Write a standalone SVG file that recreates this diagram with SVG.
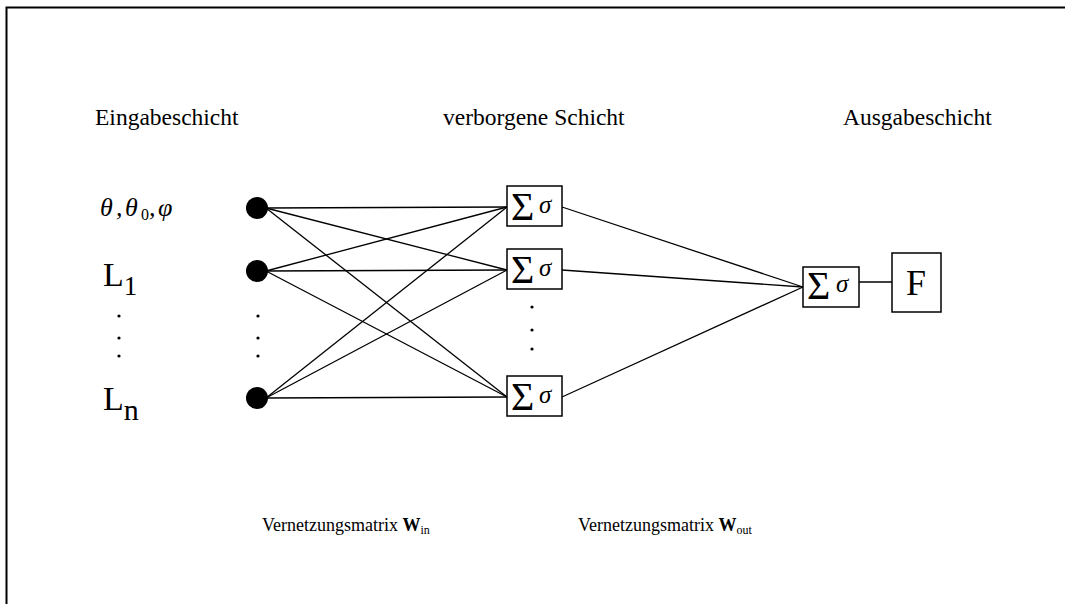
<svg xmlns="http://www.w3.org/2000/svg" width="1065" height="604" viewBox="0 0 1065 604">
<style>
text{font-family:"Liberation Serif","Times New Roman",serif;fill:#000}
.top{font-size:23.5px}
.lbl{font-size:18px}
.box{fill:#fff;stroke:#000;stroke-width:1.5}
.con line{stroke:#000;stroke-width:1.3}
.sig{font-size:40px}
.sg{font-size:25px;font-style:italic}
.dot{fill:#000}
.th{font-size:26px;font-style:italic}
</style>
<rect width="1065" height="604" fill="#fff"/>
<path d="M6.5 604 V7.5 H1065" fill="none" stroke="#000" stroke-width="2"/>
<g id="labels">
<text class="top" x="95" y="125">Eingabeschicht</text>
<text class="top" x="443" y="125">verborgene Schicht</text>
<text class="top" x="843" y="125">Ausgabeschicht</text>
<text class="lbl" x="262" y="531">Vernetzungsmatrix <tspan font-weight="bold">W</tspan><tspan font-size="12" dy="3">in</tspan></text>
<text class="lbl" x="578" y="531">Vernetzungsmatrix <tspan font-weight="bold">W</tspan><tspan font-size="12" dy="3">out</tspan></text>
</g>
<g id="input-labels">
<text class="th" x="100" y="216">θ</text>
<text class="th" x="116" y="216">,</text>
<text class="th" x="125" y="216">θ</text>
<text x="141" y="220" font-size="16">0</text>
<text class="th" x="149" y="216">,</text>
<text class="th" x="158" y="216">φ</text>
<text x="103" y="286" font-size="34">L<tspan font-size="27" dy="9">1</tspan></text>
<text x="103" y="410" font-size="34">L<tspan font-size="30" dy="10">n</tspan></text>
<circle class="dot" cx="119" cy="316" r="1.6"/>
<circle class="dot" cx="119" cy="338" r="1.6"/>
<circle class="dot" cx="119" cy="356" r="1.6"/>
</g>
<g class="con" id="connectors">
<line x1="266" y1="208" x2="507" y2="207"/>
<line x1="266" y1="208" x2="507" y2="270"/>
<line x1="266" y1="208" x2="507" y2="397"/>
<line x1="266" y1="271" x2="507" y2="207"/>
<line x1="266" y1="271" x2="507" y2="270"/>
<line x1="266" y1="271" x2="507" y2="397"/>
<line x1="266" y1="398" x2="507" y2="207"/>
<line x1="266" y1="398" x2="507" y2="270"/>
<line x1="266" y1="398" x2="507" y2="397"/>
<line x1="562" y1="207" x2="803" y2="287"/>
<line x1="562" y1="270" x2="803" y2="287"/>
<line x1="562" y1="397" x2="803" y2="287"/>
<line x1="859" y1="282" x2="892" y2="282"/>
</g>
<g id="in1"><circle cx="257" cy="208" r="11"/></g>
<g id="in2"><circle cx="257" cy="271" r="11"/></g>
<g id="in-dots">
<circle class="dot" cx="258" cy="316" r="1.6"/>
<circle class="dot" cx="258" cy="338" r="1.6"/>
<circle class="dot" cx="258" cy="356" r="1.6"/>
</g>
<g id="in3"><circle cx="257" cy="398" r="11"/></g>
<g id="h1"><rect class="box" x="507" y="186" width="55" height="40"/><text class="sig" x="511" y="220">Σ</text><text class="sg" x="539" y="213">σ</text></g>
<g id="h2"><rect class="box" x="507" y="249" width="55" height="40"/><text class="sig" x="511" y="283">Σ</text><text class="sg" x="539" y="276">σ</text></g>
<g id="h-dots">
<circle class="dot" cx="532" cy="307" r="1.6"/>
<circle class="dot" cx="532" cy="330" r="1.6"/>
<circle class="dot" cx="532" cy="349" r="1.6"/>
</g>
<g id="h3"><rect class="box" x="507" y="376" width="55" height="40"/><text class="sig" x="511" y="410">Σ</text><text class="sg" x="539" y="403">σ</text></g>
<g id="out"><rect class="box" x="803" y="267" width="56" height="40"/><text class="sig" x="807" y="299">Σ</text><text class="sg" x="836" y="292">σ</text></g>
<g id="F"><rect class="box" x="892" y="253" width="49" height="59"/><text x="906" y="295" font-size="36">F</text></g>
</svg>
